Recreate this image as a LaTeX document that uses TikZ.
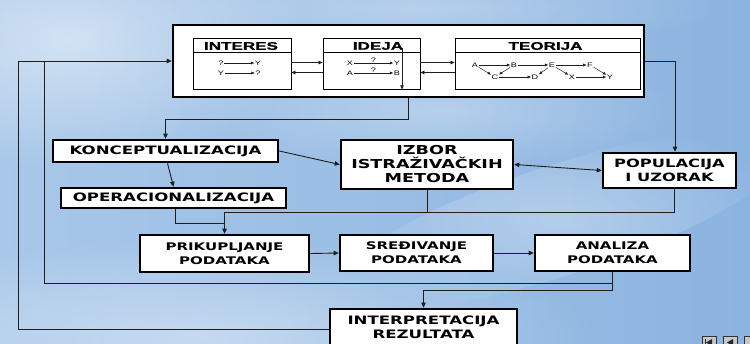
\documentclass[tikz,border=0pt]{standalone}
\usepackage{fontspec}
\usetikzlibrary{arrows.meta,fadings}
\newfontfamily\boxfont[FakeStretch=1.43]{DejaVu Sans}
\newfontfamily\headfont[FakeStretch=1.55,FakeBold=0.8]{Liberation Sans}
\newfontfamily\smallfont[FakeStretch=1.4]{Liberation Sans}
\definecolor{skyleft}{HTML}{A8C7E9}
\definecolor{skyright}{HTML}{8CB4E0}
\definecolor{wire}{HTML}{1E1E1E}
\definecolor{navgray}{HTML}{C4C7CC}
\tikzfading[name=cloudfade, inner color=transparent!0, outer color=transparent!100]
\begin{document}
\begin{tikzpicture}[x=1pt,y=-1pt,
  box/.style={draw=black, line width=2.6pt, fill=white, inner sep=0pt, align=center,
    font=\boxfont\bfseries\fontsize{11.6}{14}\selectfont},
  lowbox/.style={box, font=\boxfont\bfseries\fontsize{10.5}{14}\selectfont},
  panel/.style={draw=black, line width=0.8pt, fill=white, inner sep=0pt, minimum height=51pt},
  head/.style={inner sep=0pt, font=\headfont\bfseries\fontsize{11}{12}\selectfont},
  sym/.style={inner sep=0.6pt, font=\smallfont\fontsize{6.5}{7}\selectfont},
  wirearrow/.style={draw=wire, line width=0.9pt, -{Triangle[length=5pt,width=4.5pt]}},
  wireline/.style={draw=wire, line width=0.9pt},
  bothways/.style={draw=wire, line width=0.9pt, {Triangle[length=5pt,width=4.5pt]}-{Triangle[length=5pt,width=4.5pt]}},
  panelarrow/.style={draw=wire, line width=0.7pt, -{Triangle[length=4pt,width=3.5pt]}},
  tinyarrow/.style={draw=wire, line width=0.5pt, -{Triangle[length=3.2pt,width=2.6pt]}},
  navbtn/.style={draw=black!80, line width=0.6pt, fill=navgray, minimum size=14pt, inner sep=0pt}]

\useasboundingbox (0,0) rectangle (750,343);

% sky background
\shade[left color=skyleft, right color=skyright] (0,0) rectangle (750,343);
\fill[white, opacity=0.5, path fading=cloudfade] (70,40) ellipse (240 and 130);
\fill[white, opacity=0.4, path fading=cloudfade] (200,338) ellipse (400 and 100);
\fill[white, opacity=0.3, path fading=cloudfade] (440,110) ellipse (240 and 60);
\fill[white, opacity=0.3, path fading=cloudfade, rotate around={18:(560,220)}] (560,220) ellipse (240 and 55);
\fill[white, opacity=0.3, path fading=cloudfade] (420,8) ellipse (300 and 45);

% upper frame with the three panels
\node[draw=black, line width=2.6pt, fill=white, minimum width=471pt, minimum height=72pt, inner sep=0pt] (top) at (408.5,61) {};
\node[panel, minimum width=98pt] (interes) at (242,63.5) {};
\node[panel, minimum width=97pt] (ideja) at (371.5,63.5) {};
\node[panel, minimum width=185pt] (teorija) at (547.5,63.5) {};
\foreach \p in {interes,ideja,teorija}
  \draw[line width=0.8pt] ([yshift=-15pt]\p.north west) -- ([yshift=-15pt]\p.north east);
\node[head] (hinteres) at (241,46) {INTERES};
\node[head] (hideja) at (378,46) {IDEJA};
\node[head] (hteorija) at (545.5,46) {TEORIJA};

% arrows between the panels
\draw[panelarrow] ([yshift=1pt]interes.east) -- ([yshift=1pt]ideja.west);
\draw[panelarrow] ([yshift=-9pt]ideja.west) -- ([yshift=-9pt]interes.east);
\draw[panelarrow] ([yshift=1pt]ideja.east) -- ([yshift=1pt]teorija.west);
\draw[panelarrow] ([yshift=-9pt]teorija.west) -- ([yshift=-9pt]ideja.east);

% INTERES content
\node[sym] (iq1) at (221,63) {?};
\node[sym] (iy1) at (258,63) {Y};
\node[sym] (iy2) at (221,73) {Y};
\node[sym] (iq2) at (258,73) {?};
\draw[tinyarrow] (iq1) -- (iy1);
\draw[tinyarrow] (iy2) -- (iq2);

% IDEJA content
\node[sym] (dx) at (350,63) {X};
\node[sym] (dy) at (397,63) {Y};
\node[sym] (da) at (350,73) {A};
\node[sym] (db) at (397,73) {B};
\draw[tinyarrow] (dx) -- node[sym, above=0pt] (dq1) {?} (dy);
\draw[tinyarrow] (da) -- node[sym, above=0pt] (dq2) {?} (db);
\coordinate (ideaTop) at (402,48);
\draw[panelarrow] (ideaTop) -- (ideaTop |- ideja.south);

% TEORIJA content
\node[sym] (ta) at (475,65) {A};
\node[sym] (tb) at (514,65) {B};
\node[sym] (te) at (552,65) {E};
\node[sym] (tf) at (590,65) {F};
\node[sym] (tc) at (495,77) {C};
\node[sym] (td) at (535,77) {D};
\node[sym] (tx) at (572,77) {X};
\node[sym] (ty) at (610,77) {Y};
\draw[tinyarrow] (ta) -- (tb);
\draw[tinyarrow] (tb) -- (te);
\draw[tinyarrow] (te) -- (tf);
\draw[tinyarrow] (ta) -- (tc);
\draw[tinyarrow] (tb) -- (tc);
\draw[tinyarrow] (tc) -- (td);
\draw[tinyarrow] (te) -- (td);
\draw[tinyarrow] (te) -- (tx);
\draw[tinyarrow] (tx) -- (ty);
\draw[tinyarrow] (tf) -- (ty);

% process boxes
\node[box, minimum width=225pt, minimum height=22pt] (konc) at (165.5,151) {KONCEPTUALIZACIJA};
\node[box, minimum width=225pt, minimum height=20pt] (oper) at (173.5,198) {OPERACIONALIZACIJA};
\node[box, minimum width=172pt, minimum height=49pt, font=\boxfont\bfseries\fontsize{12.3}{14}\selectfont] (izbor) at (427,164.5) {IZBOR\\ISTRAŽIVAČKIH\\METODA};
\node[box, minimum width=133pt, minimum height=35pt, font=\boxfont\bfseries\fontsize{11.4}{14}\selectfont] (pop) at (669.5,170.5) {POPULACIJA\\I UZORAK};
\node[lowbox, minimum width=169pt, minimum height=37pt] (prik) at (224.5,253.5) {PRIKUPLJANJE\\PODATAKA};
\node[lowbox, minimum width=153pt, minimum height=36pt] (sred) at (416.5,253) {SREĐIVANJE\\PODATAKA};
\node[lowbox, minimum width=155pt, minimum height=36pt] (anal) at (612.5,253) {ANALIZA\\PODATAKA};
\node[box, minimum width=187pt, minimum height=40pt, text depth=3pt] (interp) at (423.5,329) {INTERPRETACIJA\\REZULTATA};

% connectors
\draw[wirearrow] (top.south) -- ++(0,21) -| (konc.north);
\draw[wirearrow] (top.east) -| ([xshift=5.5pt]pop.north);
\draw[wirearrow] (konc.east) -- (izbor.west);
\draw[wirearrow] ([xshift=2pt]konc.south) -- (oper.north);
\draw[bothways] (izbor.east) -- (pop.west);

\coordinate (bus) at (224.5,212);
\coordinate (opbend) at (prik.north |- 0,223);
\draw[wireline] ([xshift=4.5pt]pop.south) |- (bus);
\draw[wireline] (izbor.south) -- (izbor.south |- bus);
\draw[wireline] (bus) -- (opbend);
\draw[wirearrow] ([xshift=1.5pt]oper.south) |- (opbend) -- (prik.north);

\draw[wirearrow] (prik.east) -- (sred.west);
\draw[wirearrow] (sred.east) -- (anal.west);

\coordinate (anbend) at (anal.south |- 0,290);
\draw[wirearrow] (anal.south) -- (anbend) -| (interp.north);

% feedback loops to the upper frame
\coordinate (loopa) at (44,283);
\coordinate (farleft) at (18,0);
\draw[wireline] (anal.south |- loopa) -- (loopa) -- (loopa |- top.west);
\draw[wirearrow] (interp.west) -| (farleft |- top.west) -- (top.west);

% slide navigation buttons
\node[navbtn] (nav1) at (709,343) {};
\node[navbtn] (nav2) at (730,343) {};
\node[navbtn] (nav3) at (751,343) {};
\fill[black!85] (712,339) -- (706,342.5) -- (712,346) -- cycle;
\fill[black!85] (705,339) rectangle (706.3,346);
\fill[black!85] (733,339) -- (727,342.5) -- (733,346) -- cycle;
\end{tikzpicture}
\end{document}
